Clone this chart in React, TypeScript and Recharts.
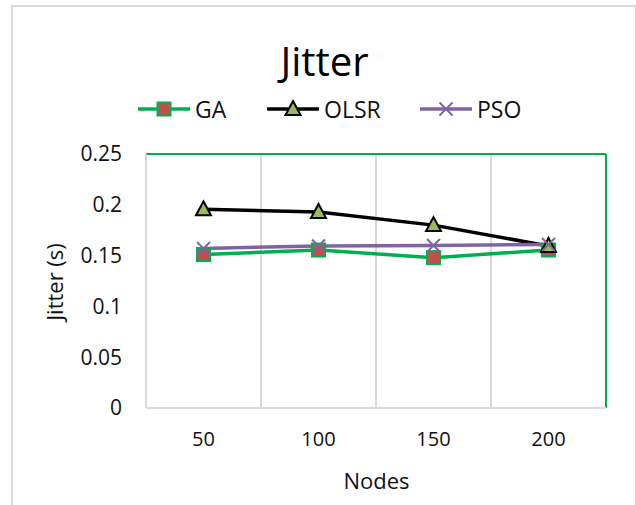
import React from "react";
import { LineChart, Line, XAxis, YAxis, CartesianGrid, Legend } from "recharts";

const nodes = ["50", "100", "150", "200"];
const gaValues = [0.151, 0.1555, 0.148, 0.1555];
const olsrValues = [0.1955, 0.193, 0.18, 0.1595];
const psoValues = [0.157, 0.1595, 0.160, 0.161];
const yTicks = [0, 0.05, 0.1, 0.15, 0.2, 0.25];

const data = nodes.map((n, i) => ({ node: n, GA: gaValues[i], OLSR: olsrValues[i], PSO: psoValues[i] }));

const FONT = "'Open Sans', 'Noto Sans', sans-serif";
const GREEN = "#00b050";
const RED = "#c0504d";
const OLIVE = "#9bbb59";
const PURPLE = "#8064a2";

const SquareDot = (p: any) => {
  const { cx, cy } = p;
  if (cx == null || cy == null) return null;
  return <rect x={cx - 6.5} y={cy - 6.5} width={13} height={13} fill={RED} stroke={GREEN} strokeWidth={2} />;
};
const TriDot = (p: any) => {
  const { cx, cy } = p;
  if (cx == null || cy == null) return null;
  return <polygon points={`${cx},${cy - 8} ${cx + 7.5},${cy + 6} ${cx - 7.5},${cy + 6}`} fill={OLIVE} stroke="#000" strokeWidth={2} />;
};
const XDot = (p: any) => {
  const { cx, cy } = p;
  if (cx == null || cy == null) return null;
  return (
    <g stroke={PURPLE} strokeWidth={2}>
      <line x1={cx - 6.5} y1={cy - 6.5} x2={cx + 6.5} y2={cy + 6.5} />
      <line x1={cx - 6.5} y1={cy + 6.5} x2={cx + 6.5} y2={cy - 6.5} />
    </g>
  );
};

const legendItems = [
  { name: "GA", color: GREEN, kind: "sq", left: 138 },
  { name: "OLSR", color: "#000", kind: "tri", left: 267 },
  { name: "PSO", color: PURPLE, kind: "x", left: 420 },
];

const renderLegend = () => (
  <div style={{ position: "relative", width: 636, height: 30 }}>
    {legendItems.map((it) => (
      <div key={it.name} style={{ position: "absolute", left: it.left, top: 0, display: "flex", alignItems: "center", height: 30 }}>
        <svg width={54} height={30}>
          <line x1={0} y1={15} x2={52} y2={15} stroke={it.color} strokeWidth={3.5} />
          {it.kind === "sq" && <SquareDot cx={26} cy={15} />}
          {it.kind === "tri" && <TriDot cx={26} cy={15} />}
          {it.kind === "x" && <XDot cx={26} cy={15} />}
        </svg>
        <span style={{ fontFamily: FONT, fontSize: 23, color: "#111", marginLeft: 3 }}>{it.name}</span>
      </div>
    ))}
  </div>
);

export default function App() {
  return (
    <div style={{ position: "absolute", left: 0, top: 0, width: 636, height: 505, background: "#fff", overflow: "hidden" }}>
      <div style={{ position: "absolute", left: 11, top: 5, width: 622, height: 520, border: "2px solid #d9d9d9" }} />
      <div style={{ position: "absolute", left: 324.5, top: 34, transform: "translateX(-50%)", fontFamily: FONT, fontSize: 40, lineHeight: 1.362, color: "#000", whiteSpace: "nowrap" }}>Jitter</div>
      <div style={{ position: "absolute", left: 54, top: 282, transform: "translate(-50%, -50%) rotate(-90deg)", fontFamily: FONT, fontSize: 22, color: "#111", whiteSpace: "nowrap" }}>Jitter (s)</div>
      <div style={{ position: "absolute", left: 376.5, top: 480, transform: "translate(-50%, -50%)", fontFamily: FONT, fontSize: 22, color: "#111" }}>Nodes</div>
      <div style={{ position: "absolute", left: 0, top: 0 }}>
        <LineChart width={636} height={505} data={data} margin={{ top: 154, right: 30, bottom: 37, left: 76 }}>
          <CartesianGrid
            horizontal={false}
            stroke="#d9d9d9"
            strokeWidth={2}
            verticalCoordinatesGenerator={({ offset }: any) =>
              [1, 2, 3].map((i) => offset.left + (i * offset.width) / nodes.length)
            }
          />
          <CartesianGrid
            stroke={GREEN}
            strokeWidth={2}
            horizontalCoordinatesGenerator={({ offset }: any) => [offset.top]}
            verticalCoordinatesGenerator={({ offset }: any) => [offset.left + offset.width]}
          />
          <XAxis
            dataKey="node"
            padding={{ left: 57.5, right: 57.5 }}
            height={60}
            tickLine={false}
            tickSize={0}
            tickMargin={24}
            axisLine={{ stroke: "#d6ddd8", strokeWidth: 2 }}
            tick={{ fontFamily: FONT, fontSize: 20, fill: "#111" }}
          />
          <YAxis
            domain={[0, 0.25]}
            ticks={yTicks}
            width={70}
            tickLine={false}
            tickSize={0}
            tickMargin={24}
            axisLine={{ stroke: "#d9d9d9", strokeWidth: 2 }}
            tick={{ fontFamily: FONT, fontSize: 21, fill: "#111" }}
          />
          <Legend verticalAlign="middle" align="center" content={renderLegend} wrapperStyle={{ position: "absolute", top: 94, left: 0, width: 636 }} />
          <Line dataKey="GA" name="GA" stroke={GREEN} strokeWidth={3.5} dot={<SquareDot />} isAnimationActive={false} />
          <Line dataKey="OLSR" name="OLSR" stroke="#000" strokeWidth={3.5} dot={<TriDot />} isAnimationActive={false} />
          <Line dataKey="PSO" name="PSO" stroke={PURPLE} strokeWidth={3.5} dot={<XDot />} isAnimationActive={false} />
        </LineChart>
      </div>
    </div>
  );
}
